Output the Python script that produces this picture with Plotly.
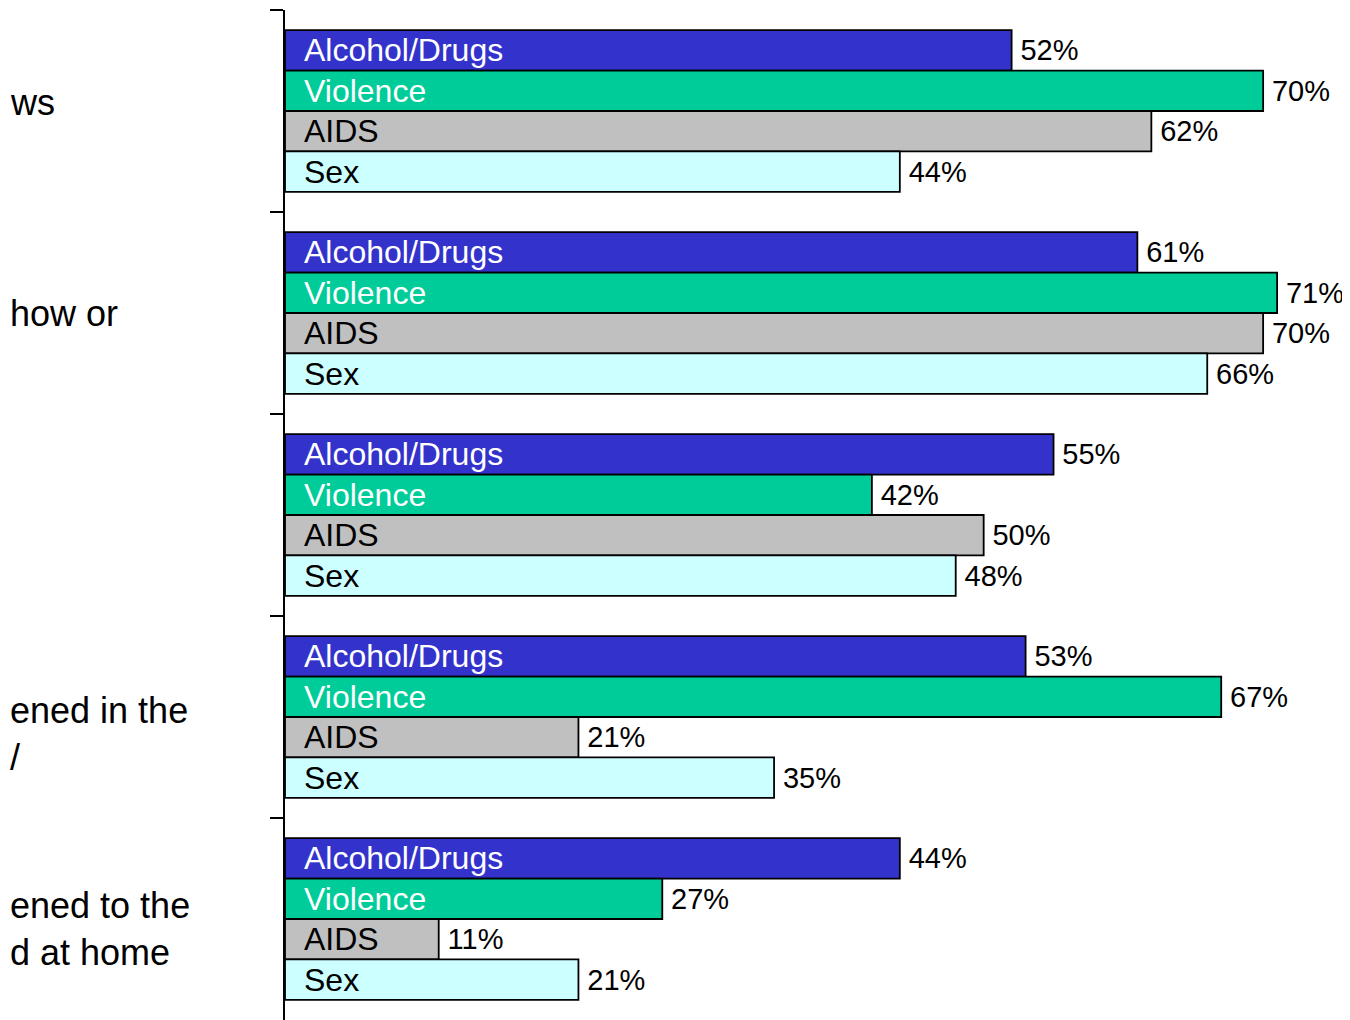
import plotly.graph_objects as go

# ---- data ----
categories = ["Q1", "Q2", "Q3", "Q4", "Q5"]
category_labels = ["ws", "how or", "", "ened in the<br>/", "ened to the<br>d at home"]
series_names = ["Alcohol/Drugs", "Violence", "AIDS", "Sex"]
alcohol_drugs = [52, 61, 55, 53, 44]
violence = [70, 71, 42, 67, 27]
aids = [62, 70, 50, 21, 11]
sex = [44, 66, 48, 35, 21]

series_values = [alcohol_drugs, violence, aids, sex]
colors = ["#3333CC", "#00CC99", "#C0C0C0", "#CCFFFF"]
text_colors = ["white", "white", "black", "black"]
FONT = "Liberation Sans, Arial, sans-serif"

fig = go.Figure()
for i, (name, vals) in enumerate(zip(series_names, series_values)):
    fig.add_trace(go.Bar(
        y=categories, x=vals, orientation="h", name=name,
        offsetgroup=str(i),
        marker=dict(color=colors[i], line=dict(color="black", width=1.8)),
        text=["\u2002" + name] * len(vals),
        textposition="inside", insidetextanchor="start",
        textfont=dict(family=FONT, size=32, color=text_colors[i]),
        constraintext="none", cliponaxis=False,
        hoverinfo="skip", showlegend=False,
    ))
    fig.add_trace(go.Bar(
        y=categories, x=vals, orientation="h", name=name + " value",
        offsetgroup=str(i),
        marker=dict(color="rgba(0,0,0,0)", line=dict(width=0)),
        text=["\u2009%d%%" % v for v in vals],
        textposition="outside",
        textfont=dict(family=FONT, size=29, color="black"),
        constraintext="none", cliponaxis=False,
        hoverinfo="skip", showlegend=False,
    ))

label_shifts = [9, 0, 0, -17, -10]
for cat, lab, ys in zip(categories, category_labels, label_shifts):
    if not lab:
        continue
    fig.add_annotation(
        x=0, xref="paper", y=cat, yref="y", xanchor="left", yanchor="middle",
        xshift=-277, yshift=ys, text=lab, showarrow=False, align="left",
        font=dict(family=FONT, size=36, color="black"),
    )

fig.update_layout(
    width=1342, height=1012,
    margin=dict(l=277, r=17, t=2, b=0),
    paper_bgcolor="white", plot_bgcolor="white",
    barmode="group", bargap=0.2, bargroupgap=0,
    font=dict(family=FONT, color="black"),
    xaxis=dict(range=[0, 75], visible=False, showgrid=False, zeroline=False),
    yaxis=dict(
        type="category", categoryorder="array", categoryarray=categories,
        range=[4.5, -0.5], showticklabels=False, showgrid=False, zeroline=False,
        tickson="boundaries", ticks="outside", ticklen=13, tickwidth=2, tickcolor="black",
        showline=True, linewidth=2, linecolor="black",
    ),
)

fig.write_html("out.html")
